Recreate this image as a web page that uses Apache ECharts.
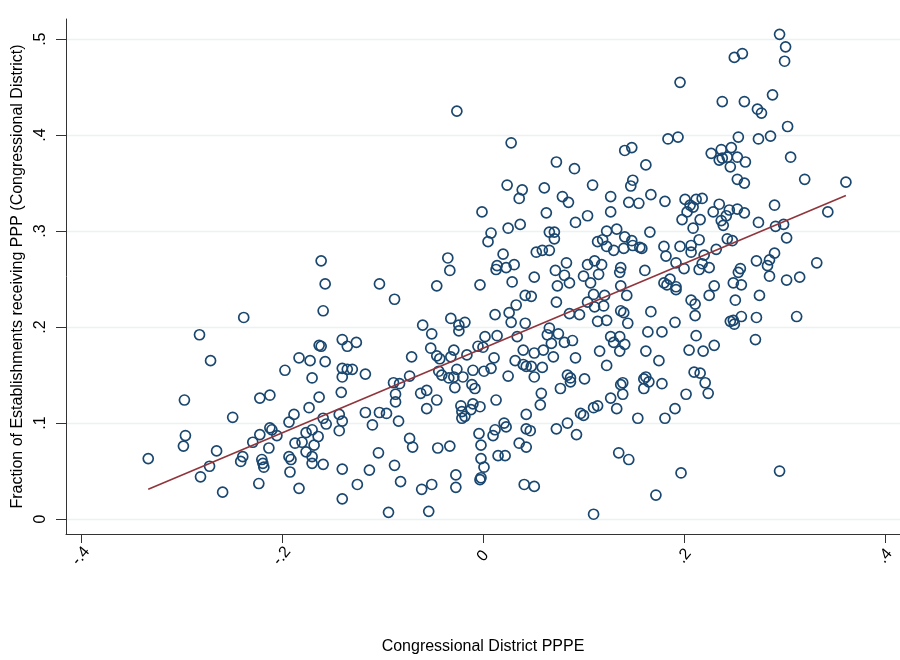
<!DOCTYPE html>
<html>
<head>
<meta charset="utf-8">
<script src="https://cdn.jsdelivr.net/npm/echarts@6/dist/echarts.min.js"></script>
<style>html,body{margin:0;padding:0;background:#fff}#c{width:900px;height:660px}</style>
</head>
<body>
<div id="c"></div>
<script>
// District points: [Congressional District PPPE, Fraction of establishments receiving PPP]
const districtPoints = [
[-0.026,0.425],[0.028,0.392],[0.073,0.372],[0.091,0.365],[0.024,0.348],[0.039,0.343],[0.061,0.345],[0.109,0.348],
[0.295,0.505],[0.301,0.492],[0.300,0.477],[0.250,0.481],[0.258,0.485],[0.196,0.455],[0.238,0.435],[0.260,0.435],[0.288,0.442],[0.273,0.427],[0.277,0.423],[0.303,0.409],[0.184,0.396],[0.194,0.398],[0.254,0.398],[0.274,0.396],[0.286,0.399],[0.141,0.384],[0.148,0.387],[0.162,0.369],[0.227,0.381],[0.237,0.385],[0.247,0.387],[0.235,0.374],[0.238,0.376],[0.243,0.377],[0.253,0.377],[0.261,0.372],[0.246,0.367],[0.306,0.377],[0.149,0.353],[0.147,0.347],[0.253,0.354],[0.260,0.350],[0.320,0.354],[0.361,0.351],
[-0.161,0.269],[-0.157,0.245],[-0.159,0.217],[-0.238,0.210],[-0.282,0.192],[-0.271,0.165],[-0.163,0.181],[-0.161,0.180],[-0.183,0.168],[-0.172,0.165],[-0.157,0.164],
[0.036,0.334],[0.079,0.336],[0.085,0.330],[0.127,0.336],[-0.001,0.320],[0.063,0.319],[0.104,0.316],[0.127,0.320],[0.092,0.309],[0.037,0.307],[0.025,0.303],[0.008,0.298],[0.005,0.289],[0.066,0.299],[0.071,0.299],[0.071,0.292],[0.123,0.300],[0.133,0.302],[0.114,0.289],[0.119,0.291],[0.123,0.284],[0.130,0.280],[0.053,0.278],[0.059,0.280],[0.066,0.280],[0.020,0.276],[-0.035,0.272],[-0.033,0.259],[0.014,0.264],[0.013,0.260],[0.023,0.262],[0.031,0.265],[0.029,0.247],[0.051,0.252],[0.072,0.259],[0.083,0.267],[0.081,0.254],[0.086,0.246],[0.074,0.243],[0.104,0.265],[0.111,0.269],[0.118,0.265],[0.100,0.253],[0.115,0.255],[0.107,0.246],[-0.103,0.245],[-0.088,0.229],[-0.046,0.243],[-0.003,0.244],[0.042,0.233],[0.048,0.232],[0.073,0.226],[0.033,0.223],[0.110,0.234],[0.104,0.226],[0.121,0.233],[0.111,0.221],[0.120,0.222],[0.026,0.215],[0.012,0.213],[0.028,0.205],[0.042,0.204],[0.086,0.214],[0.096,0.213],[0.114,0.206],[0.123,0.207],[-0.032,0.209],[-0.024,0.202],[-0.024,0.196],[-0.018,0.205],[-0.060,0.202],[-0.051,0.193],[0.002,0.190],[0.014,0.191],[0.034,0.190],[0.066,0.199],[0.064,0.192],[0.075,0.193],[0.068,0.183],[0.081,0.184],[0.089,0.186],[0.127,0.190],[0.130,0.184],[-0.140,0.187],[-0.135,0.180],[-0.126,0.184],[-0.052,0.178],[-0.046,0.170],[-0.043,0.167],[-0.071,0.169],[-0.029,0.176],[-0.032,0.169],[-0.016,0.171],[-0.005,0.180],[0.000,0.179],[0.011,0.168],[0.040,0.176],[0.051,0.173],[0.060,0.176],[0.070,0.169],[0.092,0.168],[0.116,0.175],
[0.167,0.338],[0.145,0.330],[0.155,0.329],[0.181,0.331],[0.201,0.333],[0.206,0.327],[0.212,0.333],[0.218,0.334],[0.209,0.325],[0.203,0.320],[0.198,0.312],[0.216,0.312],[0.209,0.303],[0.235,0.328],[0.229,0.320],[0.242,0.316],[0.237,0.311],[0.239,0.306],[0.245,0.322],[0.253,0.323],[0.260,0.319],[0.274,0.309],[0.290,0.327],[0.291,0.305],[0.299,0.307],[0.302,0.293],[0.343,0.320],[0.166,0.299],[0.141,0.294],[0.148,0.290],[0.149,0.285],[0.156,0.283],[0.158,0.282],[0.140,0.282],[0.180,0.284],[0.182,0.274],[0.196,0.284],[0.207,0.285],[0.207,0.278],[0.215,0.291],[0.220,0.275],[0.232,0.281],[0.243,0.292],[0.248,0.290],[0.192,0.267],[0.200,0.261],[0.215,0.260],[0.218,0.266],[0.225,0.262],[0.161,0.259],[0.137,0.262],[0.136,0.257],[0.180,0.246],[0.186,0.250],[0.183,0.244],[0.192,0.242],[0.192,0.239],[0.137,0.243],[0.143,0.233],[0.230,0.243],[0.225,0.233],[0.207,0.228],[0.211,0.224],[0.211,0.212],[0.251,0.228],[0.249,0.246],[0.257,0.244],[0.254,0.257],[0.256,0.261],[0.272,0.269],[0.283,0.264],[0.285,0.270],[0.290,0.277],[0.285,0.253],[0.302,0.249],[0.315,0.252],[0.332,0.267],[0.275,0.233],[0.191,0.205],[0.167,0.216],[0.137,0.217],[0.140,0.215],[0.144,0.204],[0.257,0.211],[0.246,0.206],[0.249,0.207],[0.250,0.203],[0.272,0.210],[0.312,0.211],[0.164,0.195],[0.178,0.195],[0.212,0.191],[0.271,0.187],[0.136,0.190],[0.141,0.182],[0.136,0.175],[0.162,0.175],[0.205,0.176],[0.219,0.175],[0.230,0.181],[0.175,0.165],
[-0.197,0.155],[-0.170,0.147],[-0.297,0.124],[-0.222,0.126],[-0.212,0.129],[-0.163,0.127],[-0.249,0.106],[-0.173,0.116],[-0.188,0.109],[-0.193,0.101],[-0.159,0.105],[-0.156,0.099],[-0.296,0.087],[-0.298,0.076],[-0.265,0.071],[-0.272,0.055],[-0.281,0.044],[-0.259,0.028],[-0.333,0.063],[-0.239,0.065],[-0.241,0.060],[-0.229,0.080],[-0.222,0.088],[-0.212,0.095],[-0.210,0.093],[-0.205,0.087],[-0.213,0.074],[-0.220,0.062],[-0.219,0.058],[-0.218,0.054],[-0.223,0.037],[-0.187,0.079],[-0.180,0.080],[-0.176,0.090],[-0.170,0.093],[-0.164,0.086],[-0.168,0.077],[-0.176,0.070],[-0.170,0.065],[-0.170,0.058],[-0.159,0.057],[-0.193,0.065],[-0.191,0.062],[-0.192,0.049],[-0.183,0.032],
[-0.140,0.157],[-0.135,0.156],[-0.130,0.156],[-0.140,0.148],[-0.117,0.151],[-0.141,0.132],[-0.143,0.109],[-0.140,0.102],[-0.143,0.092],[-0.117,0.111],[-0.103,0.111],[-0.096,0.110],[-0.110,0.098],[-0.084,0.102],[-0.087,0.130],[-0.087,0.122],[-0.089,0.142],[-0.083,0.141],[-0.073,0.149],[-0.062,0.131],[-0.056,0.134],[-0.056,0.115],[-0.046,0.124],[-0.044,0.154],[-0.041,0.150],[-0.034,0.147],[-0.029,0.148],[-0.026,0.156],[-0.020,0.148],[-0.028,0.137],[-0.010,0.155],[0.001,0.154],[0.008,0.157],[-0.011,0.140],[-0.008,0.136],[-0.022,0.118],[-0.021,0.112],[-0.021,0.105],[-0.018,0.107],[-0.012,0.114],[-0.010,0.120],[-0.003,0.117],[0.013,0.124],[0.025,0.149],[0.032,0.165],[0.040,0.161],[0.043,0.159],[0.048,0.159],[0.051,0.148],[0.059,0.158],[0.058,0.131],[0.057,0.119],[0.077,0.136],[0.084,0.150],[0.087,0.147],[0.087,0.143],[0.101,0.146],[0.123,0.160],[0.127,0.126],[0.133,0.115],[0.110,0.116],[0.114,0.118],[0.097,0.110],[0.100,0.108],[0.043,0.109],[0.084,0.100],[0.073,0.094],[0.093,0.088],[0.043,0.094],[0.047,0.092],[0.036,0.079],[0.043,0.075],[0.021,0.100],[0.023,0.096],[0.012,0.093],[0.010,0.087],[-0.004,0.089],[-0.002,0.077],[-0.002,0.063],[0.001,0.054],[-0.002,0.043],[-0.003,0.041],[0.015,0.066],[0.022,0.066],[-0.045,0.074],[-0.033,0.076],[-0.073,0.084],[-0.070,0.075],[-0.104,0.069],[-0.140,0.052],[-0.113,0.051],[-0.088,0.056],[-0.125,0.036],[-0.082,0.039],[-0.061,0.031],[-0.051,0.036],[-0.027,0.046],[-0.027,0.033],[-0.140,0.021],[-0.094,0.007],[-0.054,0.008],[0.041,0.036],[0.051,0.034],[0.110,0.005],
[0.137,0.140],[0.139,0.142],[0.139,0.130],[0.160,0.146],[0.162,0.148],[0.165,0.143],[0.160,0.136],[0.178,0.141],[0.210,0.153],[0.216,0.152],[0.221,0.142],[0.224,0.131],[0.202,0.130],[0.191,0.115],[0.154,0.105],[0.181,0.105],[0.135,0.069],[0.145,0.062],[0.197,0.048],[0.295,0.050],[0.172,0.025]
];
// Linear fit line endpoints
const fitX = [-0.333, 0.361];
const fitY = [0.031, 0.337];
// Axis ticks and labels
const xTickValues = [-0.4, -0.2, 0, 0.2, 0.4];
const xTickLabels = ['-.4', '-.2', '0', '.2', '.4'];
const yTickValues = [0, 0.1, 0.2, 0.3, 0.4, 0.5];
const yTickLabels = ['0', '.1', '.2', '.3', '.4', '.5'];

const font = "'Liberation Sans', Arial, sans-serif";
function lab(vals, labels) {
  return function (v) {
    for (let i = 0; i < vals.length; i++) if (Math.abs(vals[i] - v) < 1e-9) return labels[i];
    return '';
  };
}
const chart = echarts.init(document.getElementById('c'), null, {renderer: 'canvas'});
chart.setOption({
  animation: false,
  backgroundColor: '#ffffff',
  grid: {left: 66, top: 19, width: 842, height: 517.7, containLabel: false},
  xAxis: {
    type: 'value', min: -0.4148, max: 0.4148,
    name: 'Congressional District PPPE', nameLocation: 'middle', nameGap: 105,
    nameTextStyle: {fontFamily: font, fontSize: 16, color: '#000'},
    axisLine: {show: true, onZero: false, lineStyle: {color: '#333', width: 1}},
    axisTick: {show: true, length: 9, customValues: xTickValues, lineStyle: {color: '#333', width: 1}},
    axisLabel: {customValues: xTickValues, formatter: lab(xTickValues, xTickLabels), rotate: 50, margin: 22,
      align: 'center', verticalAlign: 'middle',
      fontFamily: font, fontSize: 16, color: '#000'},
    splitLine: {show: false}
  },
  yAxis: {
    type: 'value', min: -0.0156, max: 0.521,
    name: 'Fraction of Establishments receiving PPP (Congressional District)', nameLocation: 'middle', nameGap: 38, nameRotate: 90,
    nameTextStyle: {fontFamily: font, fontSize: 16, color: '#000'},
    axisLine: {show: true, onZero: false, lineStyle: {color: '#333', width: 1}},
    axisTick: {show: true, length: 10, customValues: yTickValues, lineStyle: {color: '#333', width: 1}},
    axisLabel: {customValues: yTickValues, formatter: lab(yTickValues, yTickLabels), rotate: 90, margin: 17,
      fontFamily: font, fontSize: 16, color: '#000'},
    splitLine: {show: true, lineStyle: {color: '#eaf2f3', width: 1.3}}
  },
  series: [
    {
      type: 'scatter', data: districtPoints, symbol: 'circle', symbolSize: 10,
      itemStyle: {color: 'rgba(0,0,0,0)', borderColor: '#1a476f', borderWidth: 1.7, opacity: 1},
      z: 2
    },
    {
      type: 'line', data: fitX.map((x, i) => [x, fitY[i]]), symbol: 'none',
      lineStyle: {color: '#90353b', width: 1.6}, z: 3
    }
  ]
});
</script>
</body>
</html>
